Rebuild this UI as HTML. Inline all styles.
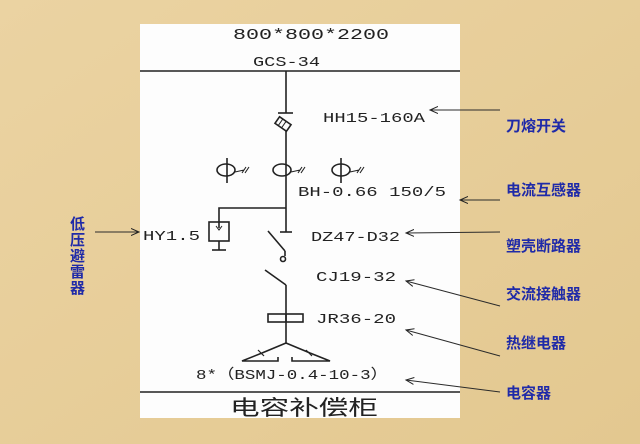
<!DOCTYPE html>
<html><head><meta charset="utf-8"><style>
html,body{margin:0;padding:0;}
body{width:640px;height:444px;background:#e8cf9c;overflow:hidden;position:relative;}
svg{position:absolute;left:0;top:0;}
</style></head><body>
<svg width="640" height="444" viewBox="0 0 640 444" xmlns="http://www.w3.org/2000/svg">
<defs>
<linearGradient id="bg" x1="0" y1="0" x2="1" y2="1"><stop offset="0" stop-color="#ebd3a2"/><stop offset="1" stop-color="#e3c890"/></linearGradient>
<marker id="ah" markerWidth="10" markerHeight="8" refX="8" refY="4" orient="auto" markerUnits="userSpaceOnUse"><path d="M0,0.5 L8,4 L0,7.5" fill="none" stroke="#222" stroke-width="1"/></marker>
</defs>
<rect width="640" height="444" fill="url(#bg)"/>
<rect x="140" y="24" width="320" height="394" fill="#fdfdfd"/>
<g font-family="Liberation Mono, monospace" fill="#222" font-size="14" lengthAdjust="spacingAndGlyphs">
<text x="233" y="39" font-size="15" textLength="156" lengthAdjust="spacingAndGlyphs">800*800*2200</text>
<text x="253" y="66" textLength="67" lengthAdjust="spacingAndGlyphs">GCS-34</text>
<text x="323" y="122" textLength="102" lengthAdjust="spacingAndGlyphs">HH15-160A</text>
<text x="298" y="196" textLength="148" lengthAdjust="spacingAndGlyphs">BH-0.66 150/5</text>
<text x="143" y="240" textLength="57" lengthAdjust="spacingAndGlyphs">HY1.5</text>
<text x="311" y="241" textLength="89" lengthAdjust="spacingAndGlyphs">DZ47-D32</text>
<text x="316" y="281" textLength="80" lengthAdjust="spacingAndGlyphs">CJ19-32</text>
<text x="316" y="323" textLength="80" lengthAdjust="spacingAndGlyphs">JR36-20</text>
<text x="196" y="379" textLength="192" lengthAdjust="spacingAndGlyphs">8*（BSMJ-0.4-10-3）</text>
</g>
<text x="230" y="415" textLength="148" lengthAdjust="spacingAndGlyphs" font-family="Liberation Sans, Noto Sans CJK SC, sans-serif" font-size="21" fill="#222">电容补偿柜</text>
<g stroke="#222" stroke-width="1.6" fill="none">
<line x1="140" y1="71" x2="460" y2="71"/>
<line x1="140" y1="392" x2="460" y2="392"/>
<line x1="286" y1="71" x2="286" y2="113"/>
<line x1="278" y1="113" x2="293" y2="113"/>
<g transform="rotate(35 283 124)"><rect x="276" y="120" width="14" height="8"/><line x1="280" y1="120" x2="280" y2="128" stroke-width="1"/><line x1="284" y1="120" x2="284" y2="128" stroke-width="1"/></g>
<line x1="286" y1="130" x2="286" y2="232"/>
<line x1="280" y1="232" x2="292" y2="232"/>
<ellipse cx="226" cy="170" rx="9" ry="6"/><line x1="227" y1="158" x2="227" y2="183"/>
<ellipse cx="282" cy="170" rx="9" ry="6"/>
<ellipse cx="341" cy="170" rx="9" ry="6"/><line x1="341" y1="158" x2="341" y2="183"/>
<path d="M235,172 L244,170 M242,173 L246,167 M245,173 L249,167 M291,172 L300,170 M298,173 L302,167 M301,173 L305,167 M350,172 L359,170 M357,173 L361,167 M360,173 L364,167" stroke-width="1.1"/>
<polyline points="286,208 219,208 219,228"/>
<rect x="209" y="222" width="20" height="19"/>
<line x1="219" y1="241" x2="219" y2="250"/>
<line x1="212" y1="250" x2="226" y2="250"/>
<path d="M216,226 L219,230 L222,226" stroke-width="1"/>
<line x1="268" y1="231" x2="285" y2="251"/>
<line x1="285" y1="251" x2="285" y2="256"/>
<circle cx="283" cy="259" r="2.5"/>
<line x1="265" y1="270" x2="286" y2="285"/>
<line x1="286" y1="285" x2="286" y2="343"/>
<rect x="268" y="314" width="35" height="8"/>
<line x1="286" y1="314" x2="286" y2="322"/>
<polyline points="262,353 286,343 310,353"/>
<line x1="258" y1="350" x2="264" y2="356" stroke-width="1.2"/>
<line x1="306" y1="350" x2="312" y2="356" stroke-width="1.2"/>
<polyline points="262,353 242,361 278,361 278,357"/>
<polyline points="310,353 330,361 292,361 292,357"/>
</g>
<g stroke="#2b2b2b" stroke-width="1">
<line x1="500" y1="110" x2="430" y2="110" marker-end="url(#ah)"/>
<line x1="500" y1="200" x2="460" y2="200" marker-end="url(#ah)"/>
<line x1="500" y1="232" x2="406" y2="233" marker-end="url(#ah)"/>
<line x1="500" y1="306" x2="406" y2="281" marker-end="url(#ah)"/>
<line x1="500" y1="356" x2="406" y2="330" marker-end="url(#ah)"/>
<line x1="500" y1="392" x2="406" y2="380" marker-end="url(#ah)"/>
<line x1="95" y1="232" x2="139" y2="232" marker-end="url(#ah)"/>
</g>
<g font-family="Liberation Sans, Noto Sans CJK SC, sans-serif" font-size="15" font-weight="bold" fill="#1f2aa8">
<text x="506" y="131">刀熔开关</text>
<text x="506" y="195">电流互感器</text>
<text x="506" y="251">塑壳断路器</text>
<text x="506" y="299">交流接触器</text>
<text x="506" y="348">热继电器</text>
<text x="506" y="398">电容器</text>
<text x="70" y="229">低</text>
<text x="70" y="245">压</text>
<text x="70" y="261">避</text>
<text x="70" y="277">雷</text>
<text x="70" y="293">器</text>
</g>
</svg>
</body></html>
